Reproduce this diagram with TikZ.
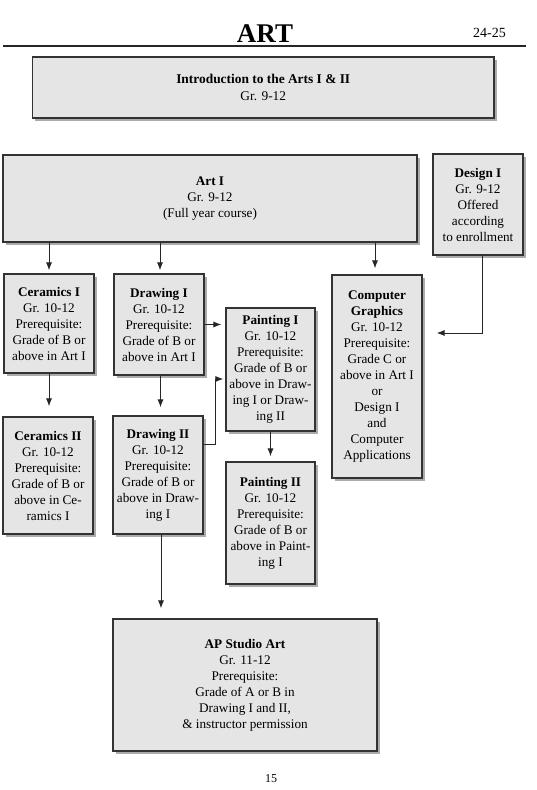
\documentclass[tikz,border=0pt]{standalone}
\usepackage{fontspec}
\setmainfont{Liberation Serif}
\usetikzlibrary{arrows.meta,shadows,calc}
\begin{document}
\begin{tikzpicture}[x=1pt,y=-1pt,
  box/.style={draw=black!80, fill=black!10, line width=1.1pt, inner sep=0pt, align=center,
    font=\fontsize{13.2}{16}\selectfont,
    drop shadow={shadow xshift=2.8pt,shadow yshift=-2.8pt,fill=black!55,opacity=0.6}},
  arr/.style={draw=black!85, line width=1pt, -{Latex[length=8pt,width=6pt]}, shorten >=2pt}]
\useasboundingbox (0,0) rectangle (537,790);
\fill[white] (0,0) rectangle (537,790);

\node[anchor=base, font=\fontsize{27}{30}\selectfont\bfseries] (title) at (265,42) {ART};
\node[anchor=base, font=\fontsize{14}{16}\selectfont] (year) at (489.5,37) {24-25};
\coordinate (rl) at (3,46);
\coordinate (rr) at (526,46);
\draw[line width=1.2pt, black!85] (rl) -- (rr);

\node[box, font=\fontsize{13.4}{17.5}\selectfont, minimum width=461.5pt, minimum height=61pt] (intro) at (263.25,87.5)
  {\textbf{Introduction to the Arts I \& II}\\Gr. 9-12};
\node[box, minimum width=414pt, minimum height=87pt] (art1) at (210,198.5)
  {\textbf{Art I}\\Gr. 9-12\\(Full year course)};
\node[box, minimum width=90pt, minimum height=101pt] (design) at (478,204.5)
  {\textbf{Design I}\\Gr. 9-12\\Offered\\according\\to enrollment};
\node[box, minimum width=90pt, minimum height=99pt] (cer1) at (49,323.5)
  {\textbf{Ceramics I}\\Gr. 10-12\\Prerequisite:\\Grade of B or\\above in Art I};
\node[box, minimum width=90pt, minimum height=101pt] (draw1) at (159,324.5)
  {\textbf{Drawing I}\\Gr. 10-12\\Prerequisite:\\Grade of B or\\above in Art I};
\node[box, minimum width=89pt, minimum height=123pt] (paint1) at (270.5,369.5)
  {\textbf{Painting I}\\Gr. 10-12\\Prerequisite:\\Grade of B or\\above in Draw-\\ing I or Draw-\\ing II};
\node[box, minimum width=90pt, minimum height=117pt] (cer2) at (48,475.5)
  {\textbf{Ceramics II}\\Gr. 10-12\\Prerequisite:\\Grade of B or\\above in Ce-\\ramics I};
\node[box, minimum width=90pt, minimum height=118pt] (draw2) at (158,475)
  {\textbf{Drawing II}\\Gr. 10-12\\Prerequisite:\\Grade of B or\\above in Draw-\\ing I};
\node[box, minimum width=89pt, minimum height=122pt] (paint2) at (270.5,523)
  {\textbf{Painting II}\\Gr. 10-12\\Prerequisite:\\Grade of B or\\above in Paint-\\ing I};
\node[box, minimum width=90pt, minimum height=203pt] (cg) at (377,376.5)
  {\textbf{Computer}\\\textbf{Graphics}\\Gr. 10-12\\Prerequisite:\\Grade C or\\above in Art I\\or\\Design I\\and\\Computer\\Applications};
\node[box, minimum width=264pt, minimum height=132pt] (ap) at (245,685)
  {\textbf{AP Studio Art}\\Gr. 11-12\\Prerequisite:\\Grade of A or B in\\Drawing I and II,\\\& instructor permission};

\node[anchor=base, font=\fontsize{12}{14}\selectfont] (pg) at (271,782) {15};

% connectors
\draw[arr, shorten >=3pt] (art1.south -| cer1.north) -- (cer1.north);
\coordinate (a2) at ([xshift=1pt]draw1.north);
\draw[arr, shorten >=3pt] (art1.south -| a2) -- (a2);
\coordinate (a3) at ([xshift=-2pt]cg.north);
\draw[arr, shorten >=6pt] (art1.south -| a3) -- (a3);
\draw[arr, shorten >=10pt] (cer1.south) -- (cer1.south |- cer2.north);
\coordinate (b2) at ([xshift=1.5pt]draw1.south);
\draw[arr, shorten >=8pt] (b2) -- (b2 |- draw2.north);
\draw[arr, shorten >=4pt] (draw1.east) -- (draw1.east -| paint1.west);
\coordinate (d2o) at ([yshift=31pt]draw2.east);
\coordinate (p1i) at ([yshift=-9.5pt]paint1.west);
\draw[arr] (d2o) -- ++(12,0) |- (p1i);
\draw[arr, shorten >=5pt] (paint1.south) -- (paint1.south |- paint2.north);
\coordinate (c2) at ([xshift=3pt]draw2.south);
\draw[arr, shorten >=10pt] (c2) -- (c2 |- ap.north);
\coordinate (e1) at ([xshift=4pt]design.south);
\coordinate (cge) at ([yshift=43.5pt]cg.east);
\draw[arr, shorten >=14pt] (e1) |- (cge);
\end{tikzpicture}
\end{document}
